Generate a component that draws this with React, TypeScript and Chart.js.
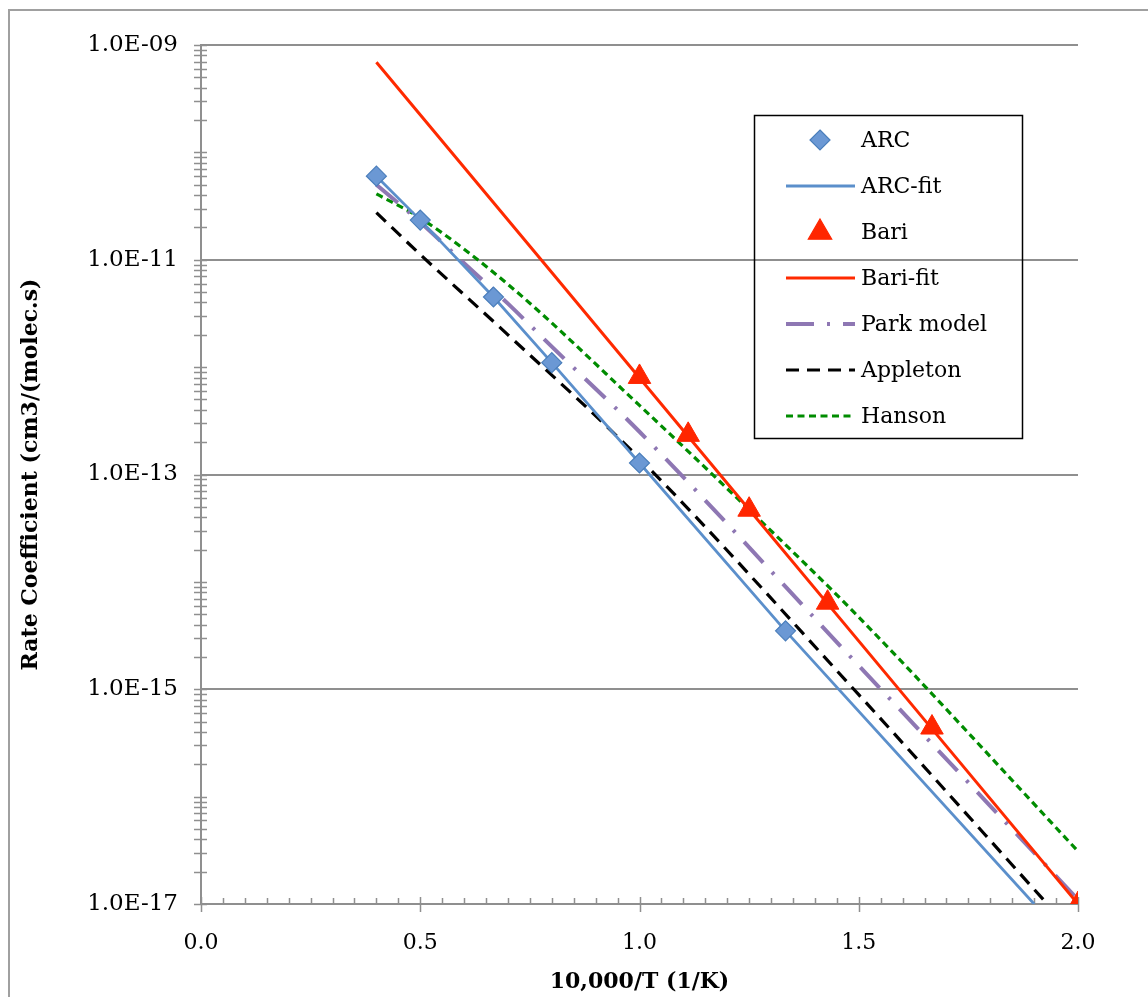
import React, { useEffect, useRef } from "react";
import { Chart, registerables } from "chart.js";

Chart.register(...registerables);

// ---- data ----
const arcX = [0.4, 0.5, 0.667, 0.8, 1.0, 1.333];
const arcY = [6.0e-11, 2.34e-11, 4.5e-12, 1.1e-12, 1.28e-13, 3.5e-15];

const arcFitX = [0.4, 0.5, 0.667, 0.8, 1.0, 1.333, 1.9];
const arcFitY = [6.0e-11, 2.34e-11, 4.5e-12, 1.1e-12, 1.28e-13, 3.5e-15, 1.0e-17];

const bariX = [1.0, 1.111, 1.25, 1.429, 1.667, 2.0];
const bariY = [8.1e-13, 2.34e-13, 4.7e-14, 6.4e-15, 4.4e-16, 1.0e-17];

const bariFitX = [0.4, 0.8, 1.2, 1.6, 2.0];
const bariFitY = [6.9e-10, 7.6e-12, 8.3e-14, 9.1e-16, 1.0e-17];

const parkX = [0.4, 0.5, 0.6, 0.7, 0.8, 1.0, 1.5, 2.0];
const parkY = [5.0e-11, 2.24e-11, 9.3e-12, 3.9e-12, 1.55e-12, 2.5e-13, 1.66e-15, 1.1e-17];

const appletonX = [0.4, 0.5, 0.7, 1.0, 1.5, 1.93];
const appletonY = [2.75e-11, 1.12e-11, 2.0e-12, 1.41e-13, 8.9e-16, 1.0e-17];

const hansonX = [0.4, 0.5, 0.7, 1.0, 1.25, 1.5, 2.0];
const hansonY = [4.1e-11, 2.45e-11, 5.9e-12, 4.4e-13, 4.7e-14, 4.7e-15, 3.1e-17];

const seriesNames = ["ARC", "ARC-fit", "Bari", "Bari-fit", "Park model", "Appleton", "Hanson"];

const yMajorValues = [1e-17, 1e-15, 1e-13, 1e-11, 1e-9];
const yMajorLabels = ["1.0E-17", "1.0E-15", "1.0E-13", "1.0E-11", "1.0E-09"];
const yDecadeExps = [-17, -16, -15, -14, -13, -12, -11, -10, -9];
const xTickLabels = ["0.0", "0.5", "1.0", "1.5", "2.0"];

const xTitle = "10,000/T (1/K)";
const yTitle = "Rate Coefficient (cm3/(molec.s)";

const zip = (xs: number[], ys: number[]) => xs.map((x, i) => ({ x, y: ys[i] }));

const GRID = "#8f8f8f";
const FONT = "'DejaVu Serif', serif";

function isMajor(v: number) {
  return yMajorValues.some((m) => Math.abs(v - m) / m < 1e-6);
}

export default function App() {
  const ref = useRef<HTMLCanvasElement | null>(null);

  useEffect(() => {
    if (!ref.current) return;

    const allYTicks: number[] = [];
    yDecadeExps.forEach((e) => {
      if (e === -9) {
        allYTicks.push(1e-9);
        return;
      }
      for (let m = 1; m <= 9; m++) allYTicks.push(Number(m + "e" + e));
    });

    const decorPlugin = {
      id: "decor",
      beforeDraw(chart: any) {
        const ctx = chart.ctx;
        ctx.save();
        ctx.fillStyle = "#fff";
        ctx.fillRect(0, 0, chart.width, chart.height);
        ctx.strokeStyle = "#a0a0a0";
        ctx.lineWidth = 2;
        ctx.strokeRect(9, 10, 1400, 1400);
        ctx.restore();
      },
      beforeDatasetsDraw(chart: any) {
        const ctx = chart.ctx;
        const xs = chart.scales.x;
        const ys = chart.scales.y;
        const area = chart.chartArea;
        ctx.save();
        ctx.strokeStyle = GRID;
        ctx.lineWidth = 1.5;
        allYTicks.forEach((v) => {
          const py = Math.round(ys.getPixelForValue(v)) + 0.5;
          ctx.beginPath();
          ctx.moveTo(area.left - 7, py);
          ctx.lineTo(area.left + 6, py);
          ctx.stroke();
        });
        for (let i = 0; i <= 40; i++) {
          const v = i * 0.05;
          const px = Math.round(xs.getPixelForValue(v)) + 0.5;
          ctx.beginPath();
          if (i % 10 === 0) {
            ctx.moveTo(px, area.bottom - 7);
            ctx.lineTo(px, area.bottom + 8);
          } else {
            ctx.moveTo(px, area.bottom - 6);
            ctx.lineTo(px, area.bottom);
          }
          ctx.stroke();
        }
        ctx.restore();
      },
      afterDraw(chart: any) {
        const ctx = chart.ctx;
        ctx.save();
        const bx = 754, by = 115, bw = 268, bh = 323;
        ctx.strokeStyle = "#000";
        ctx.lineWidth = 1.5;
        ctx.strokeRect(bx + 0.5, by + 0.5, bw, bh);
        const rowY0 = 140;
        const rowGap = 46;
        const cx = 820;
        chart.data.datasets.forEach((ds: any, i: number) => {
          const y = rowY0 + i * rowGap;
          if (ds.showLine) {
            ctx.save();
            ctx.strokeStyle = ds.borderColor;
            ctx.lineWidth = ds.borderWidth;
            ctx.setLineDash(ds.borderDash || []);
            ctx.beginPath();
            ctx.moveTo(786, y);
            ctx.lineTo(855, y);
            ctx.stroke();
            ctx.restore();
          } else {
            ctx.save();
            ctx.fillStyle = ds.pointBackgroundColor;
            ctx.strokeStyle = ds.pointBorderColor;
            ctx.lineWidth = 1.2;
            ctx.beginPath();
            if (ds.pointStyle === "rectRot") {
              const r = 10;
              ctx.moveTo(cx, y - r);
              ctx.lineTo(cx + r, y);
              ctx.lineTo(cx, y + r);
              ctx.lineTo(cx - r, y);
            } else {
              const r = 13;
              ctx.moveTo(cx, y - r);
              ctx.lineTo(cx + r * 0.9, y + r * 0.55);
              ctx.lineTo(cx - r * 0.9, y + r * 0.55);
            }
            ctx.closePath();
            ctx.fill();
            ctx.stroke();
            ctx.restore();
          }
          ctx.fillStyle = "#000";
          ctx.font = "22px " + FONT;
          ctx.textAlign = "left";
          ctx.textBaseline = "middle";
          ctx.fillText(seriesNames[i], 861, y + 1);
        });
        ctx.restore();
      },
    };

    const chart = new Chart(ref.current, {
      type: "scatter",
      data: {
        datasets: [
          {
            label: seriesNames[0],
            data: zip(arcX, arcY),
            showLine: false,
            pointStyle: "rectRot",
            pointRadius: 10,
            pointBackgroundColor: "#6b98d4",
            pointBorderColor: "#4a7ebb",
            pointBorderWidth: 1.2,
          },
          {
            label: seriesNames[1],
            data: zip(arcFitX, arcFitY),
            showLine: true,
            pointRadius: 0,
            borderColor: "#5b8fcb",
            borderWidth: 2.8,
            borderDash: [],
          },
          {
            label: seriesNames[2],
            data: zip(bariX, bariY),
            showLine: false,
            pointStyle: "triangle",
            pointRadius: 13,
            pointBackgroundColor: "#ff2600",
            pointBorderColor: "#ff2600",
            pointBorderWidth: 1,
          },
          {
            label: seriesNames[3],
            data: zip(bariFitX, bariFitY),
            showLine: true,
            pointRadius: 0,
            borderColor: "#ff2a00",
            borderWidth: 3,
            borderDash: [],
          },
          {
            label: seriesNames[4],
            data: zip(parkX, parkY),
            showLine: true,
            pointRadius: 0,
            borderColor: "#8e77b3",
            borderWidth: 4,
            borderDash: [28, 13, 3, 13],
            cubicInterpolationMode: "monotone",
          },
          {
            label: seriesNames[5],
            data: zip(appletonX, appletonY),
            showLine: true,
            pointRadius: 0,
            borderColor: "#000000",
            borderWidth: 3.2,
            borderDash: [13, 8],
            cubicInterpolationMode: "monotone",
          },
          {
            label: seriesNames[6],
            data: zip(hansonX, hansonY),
            showLine: true,
            pointRadius: 0,
            borderColor: "#008c00",
            borderWidth: 3.2,
            borderDash: [7, 4.5],
            cubicInterpolationMode: "monotone",
          },
        ],
      },
      options: {
        responsive: false,
        animation: false,
        events: [],
        layout: { padding: { left: 0, top: 45, right: 70, bottom: 0 } },
        plugins: { legend: { display: false }, tooltip: { enabled: false } },
        scales: {
          x: {
            type: "linear",
            min: 0,
            max: 2,
            ticks: {
              stepSize: 0.5,
              padding: 26,
              color: "#000",
              font: { family: FONT, size: 22 },
              callback: (v: any) => {
                const idx = Math.round(Number(v) / 0.5);
                return Math.abs(Number(v) - idx * 0.5) < 1e-9 ? xTickLabels[idx] : "";
              },
            },
            grid: { drawOnChartArea: false, drawTicks: false },
            border: { display: true, color: GRID, width: 2 },
            title: {
              display: true,
              text: xTitle,
              color: "#000",
              font: { family: FONT, size: 22, weight: "bold" },
              padding: { top: 0, bottom: 2 },
            },
            afterFit: (s: any) => {
              s.height = 93;
            },
          },
          y: {
            type: "logarithmic",
            min: 1e-17,
            max: 1e-9,
            afterBuildTicks: (s: any) => {
              s.ticks = allYTicks.map((v) => ({ value: v }));
            },
            ticks: {
              autoSkip: false,
              padding: 23,
              color: "#000",
              font: { family: FONT, size: 23 },
              callback: (v: any) => {
                const i = yMajorValues.findIndex((m) => Math.abs(Number(v) - m) / m < 1e-6);
                return i >= 0 ? yMajorLabels[i] : "";
              },
            },
            grid: {
              drawTicks: false,
              lineWidth: 2,
              color: (c: any) => (c.tick && isMajor(c.tick.value) ? GRID : "rgba(0,0,0,0)"),
            },
            border: { display: true, color: GRID, width: 2 },
            title: {
              display: true,
              text: yTitle,
              color: "#000",
              font: { family: FONT, size: 22, weight: "bold" },
              padding: { top: 18, bottom: 0 },
            },
            afterFit: (s: any) => {
              s.width = 201;
            },
          },
        },
      } as any,
      plugins: [decorPlugin],
    });
    return () => chart.destroy();
  }, []);

  return (
    <div style={{ position: "absolute", left: 0, top: 0, width: 1148, height: 997 }}>
      <canvas ref={ref} width={1148} height={997} style={{ display: "block" }} />
    </div>
  );
}
